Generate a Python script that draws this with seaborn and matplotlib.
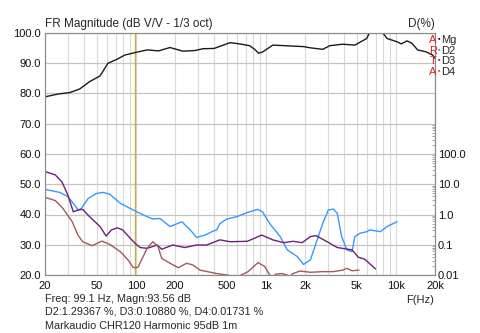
import numpy as np
import pandas as pd
import matplotlib
matplotlib.use("Agg")
import matplotlib.pyplot as plt
import seaborn as sns
from matplotlib.ticker import FixedLocator, FixedFormatter, NullFormatter

# Frequency response magnitude (dB V/V, 1/3 oct smoothing)
mag_freq = [20, 25, 31, 37, 44, 53, 61, 71.5, 82, 99.1, 122, 150, 183, 230, 285,
            328, 400, 530, 630, 750, 820, 880, 950, 1130, 1950, 2200, 2740, 3100,
            3900, 4840, 5970, 6500, 7500, 8000, 8560, 10200, 11000, 12200, 13300,
            14700, 17000, 19200, 20000]
mag_db = [78.9, 79.8, 80.3, 81.5, 83.9, 85.8, 90.0, 91.3, 92.7, 93.56, 94.4, 94.1,
          95.2, 94.0, 94.2, 94.8, 94.9, 96.8, 96.4, 95.8, 94.6, 93.3, 93.8, 96.0,
          95.5, 95.1, 94.6, 95.8, 96.3, 96.0, 98.2, 101.5, 101.5, 99.8, 98.2, 97.1,
          96.4, 97.4, 96.6, 94.4, 93.8, 92.7, 91.6]

# Second harmonic distortion (%)
d2_freq = [20, 26, 30, 33, 36, 38, 43, 50, 56, 63, 76, 99.1, 122, 135, 153, 183,
           226, 260, 294, 340, 393, 418, 443, 502, 600, 716, 863, 942, 1070, 1290,
           1460, 1740, 1950, 2200, 2430, 2740, 3020, 3300, 3540, 3830, 4200, 4600,
           4840, 5300, 5970, 6300, 7600, 8560, 10200]
d2_pct = [6.76, 5.37, 3.89, 2.34, 1.41, 1.58, 3.39, 5.01, 5.37, 4.68, 2.34, 1.29367,
          0.85, 0.71, 0.74, 0.40, 0.575, 0.32, 0.174, 0.209, 0.282, 0.309, 0.50,
          0.71, 0.85, 1.15, 1.48, 1.23, 0.50, 0.186, 0.068, 0.041, 0.0224, 0.0316,
          0.112, 0.51, 1.41, 1.51, 1.10, 0.186, 0.068, 0.059, 0.186, 0.24, 0.27,
          0.31, 0.27, 0.40, 0.575]

# Third harmonic distortion (%)
d3_freq = [20, 24, 27, 30, 33, 36, 39, 44, 53, 59, 65, 72, 79, 93, 99.1, 108, 122,
           146, 158, 192, 238, 294, 350, 443, 530, 720, 930, 1130, 1370, 1620, 1900,
           2200, 2430, 2960, 3540, 4200, 4600, 5130, 5780, 6970]
d3_pct = [26.3, 20.4, 12.0, 4.37, 1.23, 1.41, 1.48, 0.85, 0.40, 0.195, 0.31, 0.363,
          0.31, 0.145, 0.1088, 0.081, 0.076, 0.098, 0.071, 0.098, 0.081, 0.098,
          0.098, 0.145, 0.126, 0.13, 0.209, 0.145, 0.117, 0.13, 0.117, 0.186, 0.20,
          0.126, 0.081, 0.072, 0.068, 0.039, 0.033, 0.0158]

# Fourth harmonic distortion (%)
d4_freq = [20, 24, 27.5, 32.4, 35.8, 39, 46, 55, 63, 76, 87, 95, 99.1, 104, 122, 135,
           148, 158, 183, 212, 246, 275, 311, 418, 500, 600, 730, 870, 980, 1070,
           1130, 1200, 1330, 1450, 1530, 1620, 1830, 2200, 2740, 3300, 3900, 4200,
           4600, 5200]
d4_pct = [3.72, 2.88, 1.58, 0.575, 0.209, 0.126, 0.093, 0.132, 0.102, 0.059, 0.0316,
          0.0182, 0.01731, 0.0182, 0.076, 0.126, 0.087, 0.0355, 0.0245, 0.0174,
          0.0245, 0.0214, 0.0145, 0.0112, 0.0100, 0.0085, 0.0129, 0.0257, 0.0191,
          0.0100, 0.0089, 0.0107, 0.0112, 0.0100, 0.0091, 0.0112, 0.0135, 0.0123,
          0.0129, 0.0129, 0.0145, 0.0166, 0.0138, 0.0145]

x_ticks = [20, 50, 100, 200, 500, 1000, 2000, 5000, 10000, 20000]
x_labels = ["20", "50", "100", "200", "500", "1k", "2k", "5k", "10k", "20k"]
db_ticks = [20, 30, 40, 50, 60, 70, 80, 90, 100]
pct_ticks = [0.01, 0.1, 1.0, 10.0, 100.0]
pct_labels = ["0.01", "0.1", "1.0", "10.0", "100.0"]

cursor_freq = 99.1

sns.set_style("white")
plt.rcParams['font.family'] = ['Liberation Sans', 'DejaVu Sans']

W, H = 480, 333
fig = plt.figure(figsize=(W / 100, H / 100), dpi=100)
ax = fig.add_axes([45 / W, 58 / H, 390 / W, 242 / H])

ax.set_xscale('log')
ax.set_xlim(20, 20000)
ax.set_ylim(20, 100)

# frequency grid at every 1..9 multiple of each decade
minor_x = [m * 10 ** e for e in range(1, 5) for m in range(1, 10)]
minor_x = [v for v in minor_x if 20 <= v <= 20000]
ax.xaxis.set_major_locator(FixedLocator(x_ticks))
ax.xaxis.set_major_formatter(FixedFormatter(x_labels))
ax.xaxis.set_minor_locator(FixedLocator(minor_x))
ax.xaxis.set_minor_formatter(NullFormatter())
ax.yaxis.set_major_locator(FixedLocator(db_ticks))
ax.yaxis.set_major_formatter(FixedFormatter([f"{v:.1f}" for v in db_ticks]))

ax.grid(which='both', axis='x', color='#d9d9d9', lw=0.8)
ax.grid(which='major', axis='y', color='#c4c4c4', lw=0.9)
ax.set_axisbelow(True)
ax.tick_params(axis='both', which='both', length=0, labelsize=8, colors='#111111')
ax.tick_params(axis='x', pad=4)
ax.tick_params(axis='y', pad=3)
for s in ax.spines.values():
    s.set_color('#8c8c8c')
    s.set_linewidth(0.8)

ax.axvline(cursor_freq, color='#c2b040', lw=1.0, zorder=2.5)

mag_df = pd.DataFrame({"freq": mag_freq, "db": mag_db})
sns.lineplot(data=mag_df, x="freq", y="db", ax=ax, color='#1a1a1a', lw=1.0,
             sort=False, estimator=None, zorder=3)
ax.set_xlabel("")
ax.set_ylabel("")

# distortion on a log percentage scale: one decade spans 10 dB
ax2 = ax.twinx()
ax2.set_yscale('log')
ax2.set_ylim(0.01, 1e6)
dist_df = pd.concat([
    pd.DataFrame({"freq": d2_freq, "pct": d2_pct, "order": "D2"}),
    pd.DataFrame({"freq": d3_freq, "pct": d3_pct, "order": "D3"}),
    pd.DataFrame({"freq": d4_freq, "pct": d4_pct, "order": "D4"}),
])
palette = {"D2": '#3399ff', "D3": '#6e1f78', "D4": '#a05a5a'}
sns.lineplot(data=dist_df, x="freq", y="pct", hue="order", palette=palette, ax=ax2,
             lw=1.0, sort=False, estimator=None, legend=False)
ax2.set_xlim(20, 20000)
ax2.set_ylabel("")
ax2.set_xlabel("")
ax2.yaxis.set_major_locator(FixedLocator(pct_ticks))
ax2.yaxis.set_major_formatter(FixedFormatter(pct_labels))
minor_pct = [m * 10.0 ** e for e in range(-2, 3) for m in range(2, 10)]
ax2.yaxis.set_minor_locator(FixedLocator(minor_pct))
ax2.yaxis.set_minor_formatter(NullFormatter())
ax2.tick_params(axis='y', which='major', length=0, labelsize=8, pad=2, colors='#111111')
ax2.tick_params(axis='y', which='minor', length=2.5, direction='in', color='#9a9a9a', width=0.6)
for s in ax2.spines.values():
    s.set_color('#8c8c8c')
    s.set_linewidth(0.8)


def px_text(x, y, s, **kw):
    fig.text(x / W, 1 - y / H, s, **kw)


px_text(45, 24, "FR Magnitude (dB V/V - 1/3 oct)", fontsize=8.5, va='center', ha='left')
px_text(435, 24, "D(%)", fontsize=8.5, va='center', ha='right')
px_text(434, 300, "F(Hz)", fontsize=8, va='center', ha='right')

px_text(45, 299, f"Freq: {cursor_freq} Hz, Magn:93.56 dB", fontsize=7.8, va='center')
px_text(45, 312, "D2:1.29367 %, D3:0.10880 %, D4:0.01731 %", fontsize=7.8, va='center')
px_text(45, 326, "Markaudio CHR120 Harmonic 95dB 1m", fontsize=7.8, va='center')

# program tag and trace legend at the right edge
for i, (ch, name, col) in enumerate(zip("ARTA", ["Mg", "D2", "D3", "D4"],
                                        ['#1a1a1a', '#3399ff', '#6e1f78', '#a05a5a'])):
    y = 40 + i * 10.7
    px_text(433, y, ch, fontsize=8, color='#e02020', va='center', ha='center')
    px_text(439, y - 1.5, "\u25aa", fontsize=5, color=col, va='center', ha='center')
    px_text(441, y, name, fontsize=8, va='center', ha='left')

fig.savefig("out.png", dpi=100, facecolor='white')
